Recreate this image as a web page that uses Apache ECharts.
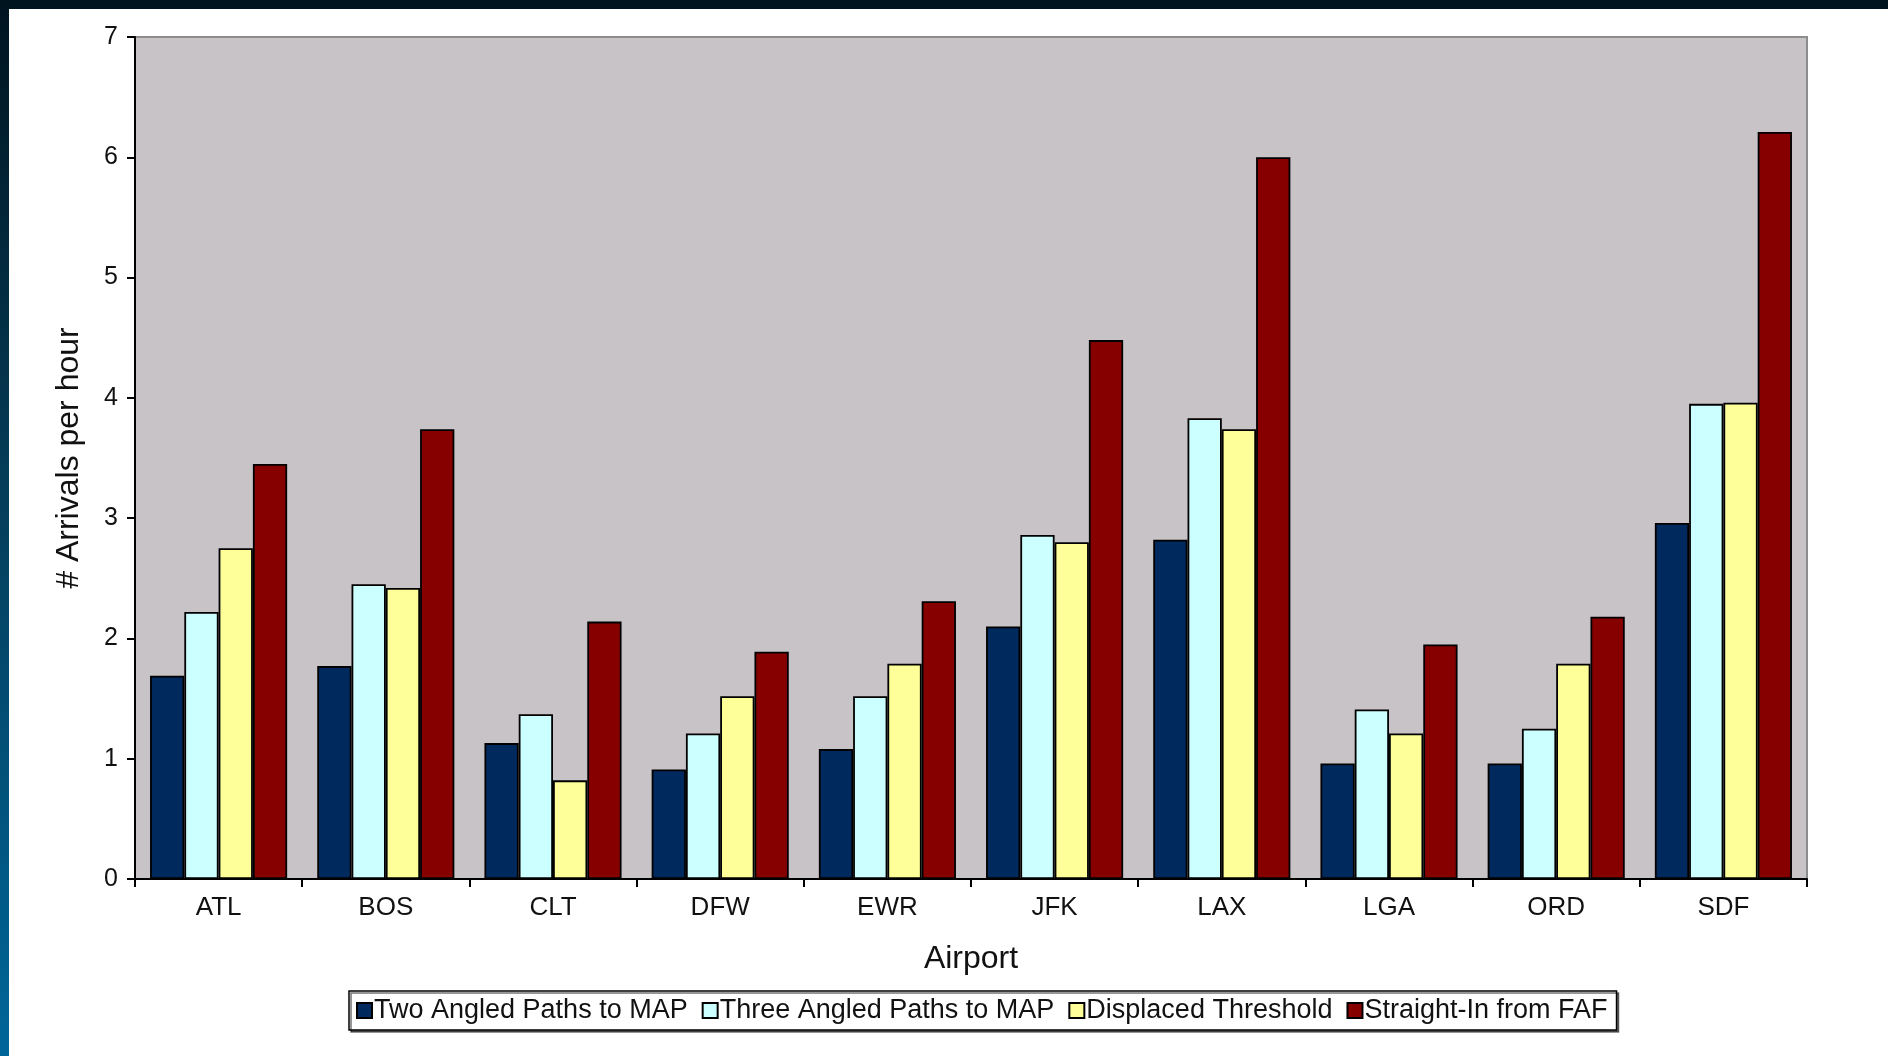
<!DOCTYPE html>
<html>
<head>
<meta charset="utf-8">
<script src="https://cdn.jsdelivr.net/npm/echarts@6/dist/echarts.min.js"></script>
<style>
  html, body { margin: 0; padding: 0; background: #ffffff; }
  #chart { width: 1888px; height: 1056px; }
</style>
</head>
<body>
<div id="chart"></div>
<script>
// Airports on the category axis
const airports = ['ATL', 'BOS', 'CLT', 'DFW', 'EWR', 'JFK', 'LAX', 'LGA', 'ORD', 'SDF'];

// Arrivals per hour for each approach procedure
const twoAngled   = [1.69, 1.77, 1.13, 0.91, 1.08, 2.10, 2.82, 0.96, 0.96, 2.96];
const threeAngled = [2.22, 2.45, 1.37, 1.21, 1.52, 2.86, 3.83, 1.41, 1.25, 3.95];
const displaced   = [2.75, 2.42, 0.82, 1.52, 1.79, 2.80, 3.74, 1.21, 1.79, 3.96];
const straightIn  = [3.45, 3.74, 2.14, 1.89, 2.31, 4.48, 6.00, 1.95, 2.18, 6.21];

const seriesNames = [
  'Two Angled Paths to MAP',
  'Three Angled Paths to MAP',
  'Displaced Threshold',
  'Straight-In from FAF'
];
const seriesColors = ['#00295E', '#CCFFFF', '#FFFF99', '#860000'];
const seriesData = [twoAngled, threeAngled, displaced, straightIn];

const yTicks = { min: 0, max: 7, interval: 1 };

const font = 'Liberation Sans, Arial, sans-serif';

const chart = echarts.init(document.getElementById('chart'));

chart.setOption({
  backgroundColor: '#ffffff',
  animation: false,
  graphic: [
    {
      type: 'rect',
      shape: { x: 0, y: 0, width: 1888, height: 9 },
      style: { fill: '#00141F' },
      silent: true
    },
    {
      type: 'rect',
      shape: { x: 0, y: 0, width: 9, height: 1056 },
      style: {
        fill: new echarts.graphic.LinearGradient(0, 0, 0, 1, [
          { offset: 0, color: '#00141F' },
          { offset: 0.45, color: '#053C58' },
          { offset: 1, color: '#006699' }
        ])
      },
      silent: true
    }
  ],
  grid: {
    left: 135,
    right: 81,
    top: 37,
    bottom: 177,
    show: true,
    backgroundColor: '#C8C3C7',
    borderColor: '#8C8C8C',
    borderWidth: 2
  },
  legend: {
    bottom: 26,
    left: 349,
    data: seriesNames,
    backgroundColor: '#ffffff',
    borderColor: '#000000',
    borderWidth: 1.5,
    shadowColor: 'rgba(0,0,0,0.55)',
    shadowOffsetX: 2,
    shadowOffsetY: 2,
    padding: [6, 9, 6, 7],
    itemWidth: 15,
    itemHeight: 15,
    itemGap: 14,
    textStyle: { fontFamily: font, fontSize: 27, color: '#111', padding: [0, 0, 0, -3] },
    icon: 'rect'
  },
  xAxis: {
    type: 'category',
    data: airports,
    name: 'Airport',
    nameLocation: 'middle',
    nameGap: 64,
    nameTextStyle: { fontFamily: font, fontSize: 32, color: '#111' },
    axisLine: { show: true, lineStyle: { color: '#000', width: 2 } },
    axisTick: { show: true, length: 8, alignWithLabel: false, lineStyle: { color: '#000', width: 2 } },
    axisLabel: { fontFamily: font, fontSize: 26, color: '#111', margin: 16 },
    splitLine: { show: false }
  },
  yAxis: {
    type: 'value',
    min: yTicks.min,
    max: yTicks.max,
    interval: yTicks.interval,
    name: '# Arrivals per hour',
    nameLocation: 'middle',
    nameRotate: 90,
    nameGap: 50,
    nameTextStyle: { fontFamily: font, fontSize: 32, color: '#111' },
    axisLine: { show: true, lineStyle: { color: '#000', width: 2 } },
    axisTick: { show: true, length: 8, lineStyle: { color: '#000', width: 2 } },
    axisLabel: { fontFamily: font, fontSize: 25, color: '#111', margin: 17 },
    splitLine: { show: false }
  },
  series: seriesNames.map((name, i) => ({
    name: name,
    type: 'bar',
    data: seriesData[i],
    barGap: '0%',
    barCategoryGap: '18%',
    itemStyle: {
      color: seriesColors[i],
      borderColor: '#000',
      borderWidth: 1.8
    }
  }))
});
</script>
</body>
</html>
